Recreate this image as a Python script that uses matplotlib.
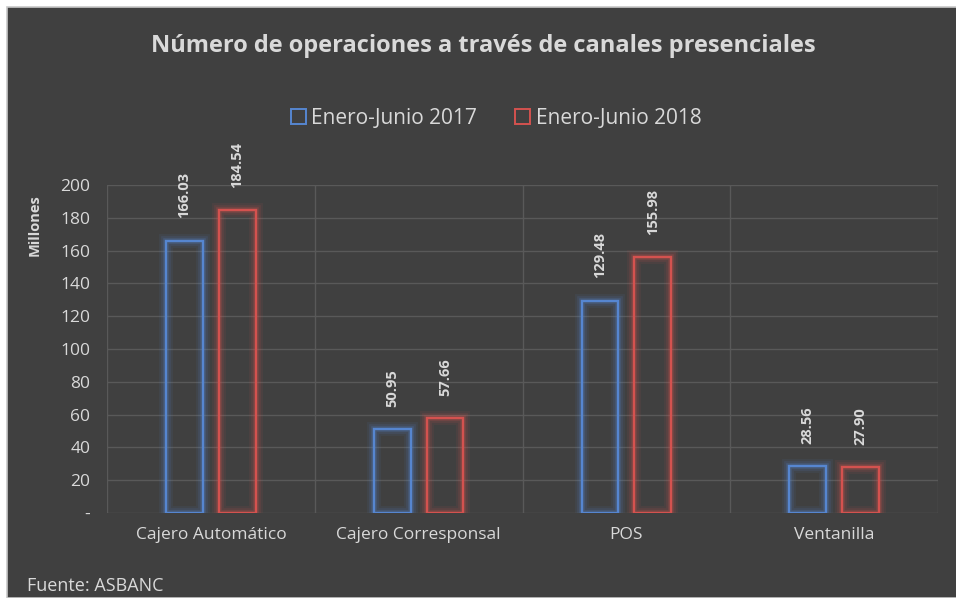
import numpy as np
import matplotlib
matplotlib.use('Agg')
import matplotlib.pyplot as plt
from matplotlib.patches import Rectangle

categorias = ['Cajero Automático', 'Cajero Corresponsal', 'POS', 'Ventanilla']
ops_2017 = [166.03, 50.95, 129.48, 28.56]
ops_2018 = [184.54, 57.66, 155.98, 27.90]
series = ['Enero-Junio 2017', 'Enero-Junio 2018']
yticks = [0, 20, 40, 60, 80, 100, 120, 140, 160, 180, 200]
ytick_labels = ['-'] + [str(v) for v in yticks[1:]]

bg = '#404040'
txt = '#d9d9d9'
azul = '#5686d0'
rojo = '#d4524f'

plt.rcParams['font.family'] = ['Open Sans', 'DejaVu Sans']

fig = plt.figure(figsize=(9.56, 5.98), dpi=100)
fig.patch.set_facecolor('white')
# marco oscuro del grafico
fig.patches.append(Rectangle((7 / 956, 0), 1, 1 - 7 / 598, transform=fig.transFigure,
                             facecolor=bg, edgecolor='#c8c8c8', linewidth=1.2, zorder=-5))

ax = fig.add_axes([107 / 956, 1 - 513 / 598, (938 - 107) / 956, (513 - 185) / 598])
ax.set_facecolor(bg)

x = np.arange(len(categorias))
w = 0.178
off = 0.127

def barras(pos, vals, color, label):
    # brillo
    for lw, a in [(10, 0.08), (7, 0.12), (4, 0.22)]:
        ax.bar(pos, vals, w, facecolor='none', edgecolor=color, linewidth=lw, alpha=a, zorder=2)
    ax.bar(pos, vals, w, facecolor='none', edgecolor=color, linewidth=1.7, zorder=3, label=label)
    for p, v in zip(pos, vals):
        ax.annotate(f'{v:.2f}', (p, v), xytext=(0, 16), textcoords='offset points',
                    rotation=90, ha='center', va='bottom', color=txt,
                    fontsize=10.5, fontweight='bold', annotation_clip=False)

barras(x - off, ops_2017, azul, series[0])
barras(x + off, ops_2018, rojo, series[1])

ax.set_xlim(-0.5, len(categorias) - 0.5)
ax.set_ylim(0, 200)
ax.set_yticks(yticks)
ax.set_yticklabels(ytick_labels)
ax.set_xticks(x)
ax.set_xticklabels(categorias)
ax.set_xticks(np.arange(-0.5, len(categorias)), minor=True)
ax.grid(axis='y', color='#595959', linewidth=1, zorder=0)
ax.grid(axis='x', which='minor', color='#595959', linewidth=1, zorder=0)
ax.set_axisbelow(True)
for s in ax.spines.values():
    s.set_visible(False)
ax.tick_params(axis='both', which='both', length=0, colors=txt, labelsize=12.5)
ax.tick_params(axis='y', pad=12)
ax.tick_params(axis='x', pad=10)

fig.text(35 / 956, 1 - 225 / 598, 'Millones', rotation=90, ha='center', va='center',
         color=txt, fontsize=10.5, fontweight='bold')

fig.text(483 / 956, 1 - 46 / 598, 'Número de operaciones a través de canales presenciales',
         ha='center', va='center', color=txt, fontsize=17, fontweight='bold')

leg = fig.legend(loc='center', bbox_to_anchor=(496 / 956, 1 - 118 / 598), ncol=2,
                 frameon=False, fontsize=15, handlelength=0.75, handleheight=0.75,
                 handletextpad=0.25, columnspacing=1.8, labelcolor=txt)
for h in leg.legend_handles:
    h.set_linewidth(1.4)

fig.text(27 / 956, 1 - 586 / 598, 'Fuente: ASBANC', ha='left', va='center',
         color=txt, fontsize=13)

fig.savefig('out.png', dpi=100, facecolor=fig.get_facecolor())
